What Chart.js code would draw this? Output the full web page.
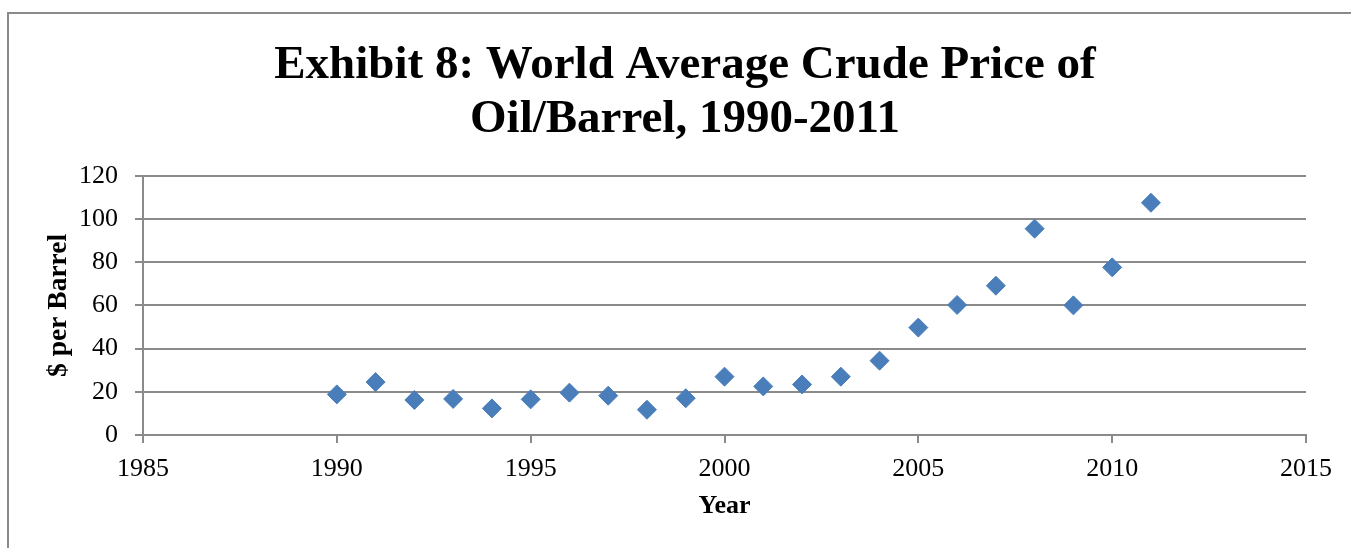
<!DOCTYPE html>
<html>
<head>
<meta charset="utf-8">
<script src="https://cdn.jsdelivr.net/npm/chart.js@4/dist/chart.umd.min.js"></script>
<style>
  html, body { margin: 0; padding: 0; background: #fff; overflow: hidden; }
  body { width: 1351px; height: 548px; position: relative; }
  #frame {
    position: absolute; left: 7px; top: 12px; width: 1400px; height: 600px;
    border-top: 2px solid #8a8a8a; border-left: 2px solid #8a8a8a;
  }
  #wrap { position: absolute; left: 0; top: 0; width: 1370px; height: 548px; }
</style>
</head>
<body>
<div id="frame"></div>
<div id="wrap"><canvas id="c" width="1370" height="548"></canvas></div>
<script>
// World average crude price, US$ per barrel
const years  = [1990, 1991, 1992, 1993, 1994, 1995, 1996, 1997, 1998, 1999, 2000,
                2001, 2002, 2003, 2004, 2005, 2006, 2007, 2008, 2009, 2010, 2011];
const prices = [18.8, 24.5, 16.2, 16.7, 12.3, 16.5, 19.6, 18.2, 11.7, 17.0, 27.0,
                22.5, 23.4, 27.0, 34.4, 49.7, 60.2, 69.1, 95.5, 60.0, 77.6, 107.5];

const titleLines = ['Exhibit 8: World Average Crude Price of', 'Oil/Barrel, 1990-2011'];
const xTitle = 'Year';
const yTitle = '$ per Barrel';

const serif = "'Liberation Serif', 'Times New Roman', serif";
const gridColor = '#8a8a8a';

const points = years.map((y, i) => ({ x: y, y: prices[i] }));

new Chart(document.getElementById('c'), {
  type: 'scatter',
  data: {
    datasets: [{
      data: points,
      pointStyle: 'rectRot',
      pointRadius: 9.5,
      pointHoverRadius: 9.5,
      backgroundColor: '#4a7ebb',
      borderColor: '#4a7ebb',
      borderWidth: 1
    }]
  },
  options: {
    responsive: false,
    animation: false,
    events: [],
    layout: { padding: { left: 0, right: 0, top: 0, bottom: 0 } },
    plugins: {
      legend: { display: false },
      tooltip: { enabled: false },
      title: {
        display: true,
        text: titleLines,
        color: '#000',
        font: { family: serif, size: 47, weight: 'bold', lineHeight: 1.16 },
        padding: { top: 38.5, bottom: 28.2 }
      }
    },
    scales: {
      x: {
        type: 'linear',
        position: 'bottom',
        min: 1985,
        max: 2015,
        afterFit: s => { s.height = 113; },
        ticks: {
          stepSize: 5,
          color: '#000',
          padding: 11,
          font: { family: serif, size: 26 },
          callback: v => String(v)
        },
        grid: { drawOnChartArea: false, drawTicks: true, tickLength: 8, color: gridColor, lineWidth: 2 },
        border: { display: true, color: gridColor, width: 2 },
        title: {
          display: true,
          text: xTitle,
          color: '#000',
          font: { family: serif, size: 26, weight: 'bold', lineHeight: 1.2 },
          padding: { top: 0, bottom: 26 }
        }
      },
      y: {
        type: 'linear',
        position: 'left',
        min: 0,
        max: 120,
        afterFit: s => { s.width = 143; },
        ticks: {
          stepSize: 20,
          color: '#000',
          padding: 17,
          font: { family: serif, size: 26 }
        },
        grid: { drawOnChartArea: true, drawTicks: true, tickLength: 8, color: gridColor, lineWidth: 2 },
        border: { display: true, color: gridColor, width: 2 },
        title: {
          display: true,
          text: yTitle,
          color: '#000',
          font: { family: serif, size: 27.5, weight: 'bold', lineHeight: 1.2 },
          padding: { top: 42, bottom: 0 }
        }
      },
      yRight: {
        type: 'linear',
        position: 'right',
        display: true,
        min: 0,
        max: 120,
        afterFit: s => { s.width = 64; },
        ticks: { display: false },
        grid: { display: false, drawTicks: false },
        border: { display: false }
      }
    }
  }
});
</script>
</body>
</html>
